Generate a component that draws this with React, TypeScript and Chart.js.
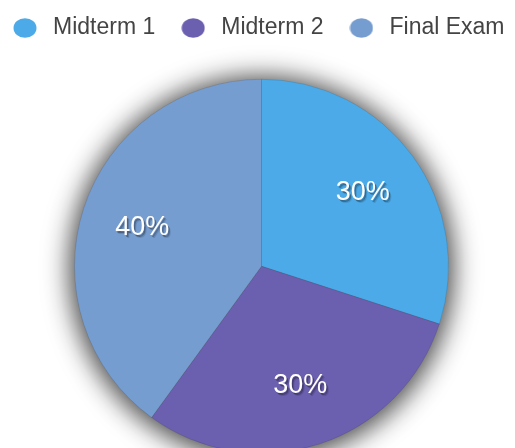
import React, { useEffect, useRef } from 'react';
import { Chart, registerables } from 'chart.js';

Chart.register(...registerables);

const categories = ['Midterm 1', 'Midterm 2', 'Final Exam'];
const weights = [30, 30, 40];
const colors = ['#4CAAE8', '#6B5FAF', '#769DD0'];

const FONT = "'Helvetica Neue', Helvetica, Arial, 'Liberation Sans', sans-serif";

function makeDot(color: string) {
  const c = document.createElement('canvas');
  c.width = 24;
  c.height = 20;
  const ctx = c.getContext('2d')!;
  ctx.fillStyle = color;
  ctx.beginPath();
  ctx.ellipse(12, 10, 11.5, 9.8, 0, 0, Math.PI * 2);
  ctx.fill();
  return c;
}

const pieShadow = {
  id: 'pieShadow',
  beforeDatasetsDraw(chart: any) {
    const arc = chart.getDatasetMeta(0).data[0];
    if (!arc) return;
    const { x, y, outerRadius } = arc.getProps(['x', 'y', 'outerRadius'], true);
    const ctx = chart.ctx;
    const cy = y + 2;
    const r0 = outerRadius - 2;
    const r1 = outerRadius + 40;
    const g = ctx.createRadialGradient(x, cy, r0, x, cy, r1);
    const stops: [number, number][] = [
      [0, 0.5],
      [3, 0.44],
      [7, 0.35],
      [11, 0.26],
      [15, 0.18],
      [19, 0.11],
      [24, 0.055],
      [29, 0.022],
      [35, 0.005],
      [42, 0],
    ];
    stops.forEach(([d, a]) => g.addColorStop(Math.min(1, d / (r1 - r0)), `rgba(0,0,0,${a})`));
    ctx.save();
    ctx.fillStyle = g;
    ctx.beginPath();
    ctx.arc(x, cy, r1, 0, Math.PI * 2);
    ctx.fill();
    ctx.restore();
  },
};

const pieLabels = {
  id: 'pieLabels',
  afterDatasetsDraw(chart: any) {
    const meta = chart.getDatasetMeta(0);
    const values = chart.data.datasets[0].data as number[];
    const total = values.reduce((a, b) => a + b, 0);
    const ctx = chart.ctx;
    ctx.save();
    ctx.font = `27px ${FONT}`;
    ctx.textAlign = 'center';
    ctx.textBaseline = 'middle';
    meta.data.forEach((arc: any, i: number) => {
      const { x, y, startAngle, endAngle, outerRadius } = arc.getProps(
        ['x', 'y', 'startAngle', 'endAngle', 'outerRadius'],
        true
      );
      const mid = (startAngle + endAngle) / 2;
      const r = outerRadius * 0.67;
      const tx = x + Math.cos(mid) * r;
      const ty = y + Math.sin(mid) * r;
      const pct = Math.round((values[i] / total) * 100) + '%';
      ctx.fillStyle = 'rgba(0,0,0,0.12)';
      ctx.fillText(pct, tx + 2.5, ty + 3);
      ctx.fillStyle = 'rgba(0,0,0,0.28)';
      ctx.fillText(pct, tx + 1.5, ty + 2);
      ctx.fillStyle = '#ffffff';
      ctx.fillText(pct, tx, ty);
    });
    ctx.restore();
  },
};

export default function App() {
  const ref = useRef<HTMLCanvasElement | null>(null);

  useEffect(() => {
    if (!ref.current) return;
    const dots = colors.map(makeDot);
    const chart = new Chart(ref.current, {
      type: 'pie',
      data: {
        labels: categories,
        datasets: [
          {
            data: weights,
            backgroundColor: colors,
            borderColor: 'rgba(0,0,0,0.1)',
            borderWidth: 1,
            radius: 187,
          } as any,
        ],
      },
      options: {
        animation: false,
        responsive: true,
        maintainAspectRatio: false,
        layout: { padding: 0 },
        plugins: {
          legend: {
            position: 'top',
            align: 'start',
            labels: {
              usePointStyle: true,
              pointStyleWidth: 33,
              padding: 21.5,
              color: '#444444',
              font: { size: 23, family: FONT },
              generateLabels(c: any) {
                const base = (Chart as any).overrides.pie.plugins.legend.labels.generateLabels(c);
                return base.map((item: any, i: number) => ({ ...item, pointStyle: dots[i] }));
              },
            },
          },
          tooltip: { enabled: false },
        },
      } as any,
      plugins: [pieShadow, pieLabels],
    });
    return () => chart.destroy();
  }, []);

  return (
    <div style={{ position: 'relative', width: 507, height: 440, overflow: 'hidden' }}>
      <div style={{ position: 'absolute', left: -21, top: -13, width: 549, height: 488 }}>
        <canvas ref={ref} />
      </div>
    </div>
  );
}
